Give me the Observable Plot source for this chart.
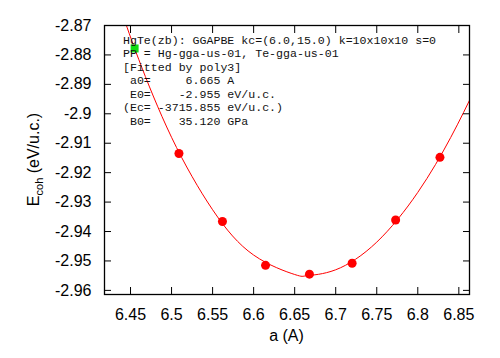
<!DOCTYPE html>
<html>
<head>
<meta charset="utf-8">
<script src="https://cdn.jsdelivr.net/npm/d3@7"></script>
<script src="https://cdn.jsdelivr.net/npm/@observablehq/plot@0.6"></script>
<style>
  html, body { margin: 0; padding: 0; background: #fff; }
  #chart { width: 500px; height: 358px; }
</style>
</head>
<body>
<div id="chart"></div>
<script>
// Calculated points (red circles)
const latticeA = [6.509, 6.562, 6.6145, 6.668, 6.720, 6.773, 6.827];
const energyE = [-2.9135, -2.9366, -2.9515, -2.9545, -2.9508, -2.9361, -2.9148];
// Highlighted point (green square)
const greenA = [6.455];
const greenE = [-2.8778];
// Fitted poly3 curve
const fitA = [6.44, 6.46, 6.50, 6.55, 6.60, 6.65, 6.665, 6.70, 6.75, 6.80, 6.84, 6.87];
const fitE = [-2.8659, -2.8815, -2.9080, -2.9326, -2.9480, -2.9546, -2.9550, -2.9530, -2.9436, -2.9267, -2.9081, -2.8914];
// Ticks
const xTicks = [6.45, 6.5, 6.55, 6.6, 6.65, 6.7, 6.75, 6.8, 6.85];
const yTicks = [-2.87, -2.88, -2.89, -2.9, -2.91, -2.92, -2.93, -2.94, -2.95, -2.96];
// Annotation lines
const infoLines = [
  "HgTe(zb): GGAPBE kc=(6.0,15.0) k=10x10x10 s=0",
  "PP = Hg-gga-us-01, Te-gga-us-01",
  "[Fitted by poly3]",
  " a0=     6.665 A",
  " E0=    -2.955 eV/u.c.",
  "(Ec= -3715.855 eV/u.c.)",
  " B0=    35.120 GPa"
];

const points = latticeA.map((a, i) => ({a, e: energyE[i]}));
const green = greenA.map((a, i) => ({a, e: greenE[i]}));
const fit = fitA.map((a, i) => ({a, e: fitE[i]}));

const sans = "'Liberation Sans', Arial, Helvetica, sans-serif";
const fmt = d => String(+d.toFixed(2));

const W = 500, H = 358;
const chart = Plot.plot({
  width: W,
  height: H,
  marginLeft: 104,
  marginRight: 31,
  marginTop: 25,
  marginBottom: 64,
  style: {fontFamily: sans, fontSize: "16px", color: "#000", background: "#fff"},
  x: {domain: [6.4183, 6.863]},
  y: {domain: [-2.9614, -2.87]},
  marks: [
    Plot.line(fit, {x: "a", y: "e", stroke: "#ff0000", strokeWidth: 1, curve: "natural", clip: true}),
    Plot.dot(points, {x: "a", y: "e", r: 4.5, fill: "#ff0000", stroke: "none"}),
    Plot.dot(green, {x: "a", y: "e", symbol: "square", r: 4.5, fill: "#11dd11", stroke: "none"}),
    Plot.axisX(xTicks, {anchor: "bottom", tickSize: -7, tickPadding: 21, tickFormat: fmt, label: null, stroke: "#000", fontSize: 16}),
    Plot.axisX(xTicks, {anchor: "top", tickSize: -7, tickFormat: () => "", label: null, stroke: "#000"}),
    Plot.axisY(yTicks, {anchor: "left", tickSize: -7, tickPadding: 20, tickFormat: fmt, label: null, stroke: "#000", fontSize: 16}),
    Plot.axisY(yTicks, {anchor: "right", tickSize: -7, tickFormat: () => "", label: null, stroke: "#000"}),
    Plot.frame({stroke: "#000", strokeWidth: 1.3})
  ]
});

const svg = d3.select(chart);
// X axis title
svg.append("text")
  .attr("x", 286.5).attr("y", 341)
  .attr("text-anchor", "middle")
  .attr("font-family", sans).attr("font-size", 16).attr("fill", "#000")
  .text("a (A)");
// Y axis title with subscript
const yt = svg.append("text")
  .attr("transform", "translate(38.5,159.5) rotate(-90)")
  .attr("text-anchor", "middle")
  .attr("font-family", sans).attr("font-size", 16).attr("fill", "#000");
yt.append("tspan").text("E");
yt.append("tspan").attr("font-size", 11).attr("dy", 4).text("coh");
yt.append("tspan").attr("dy", -4).text(" (eV/u.c.)");
// Annotation block
const info = svg.append("g")
  .attr("text-anchor", "start")
  .attr("font-family", "'Liberation Mono', 'Courier New', monospace")
  .attr("font-size", 11.6).attr("fill", "#111");
infoLines.forEach((t, i) => {
  info.append("text")
    .attr("x", 123).attr("y", 43.5 + i * 13.5)
    .attr("text-anchor", "start")
    .attr("xml:space", "preserve")
    .style("white-space", "pre")
    .text(t);
});

document.getElementById("chart").appendChild(chart);
</script>
</body>
</html>
